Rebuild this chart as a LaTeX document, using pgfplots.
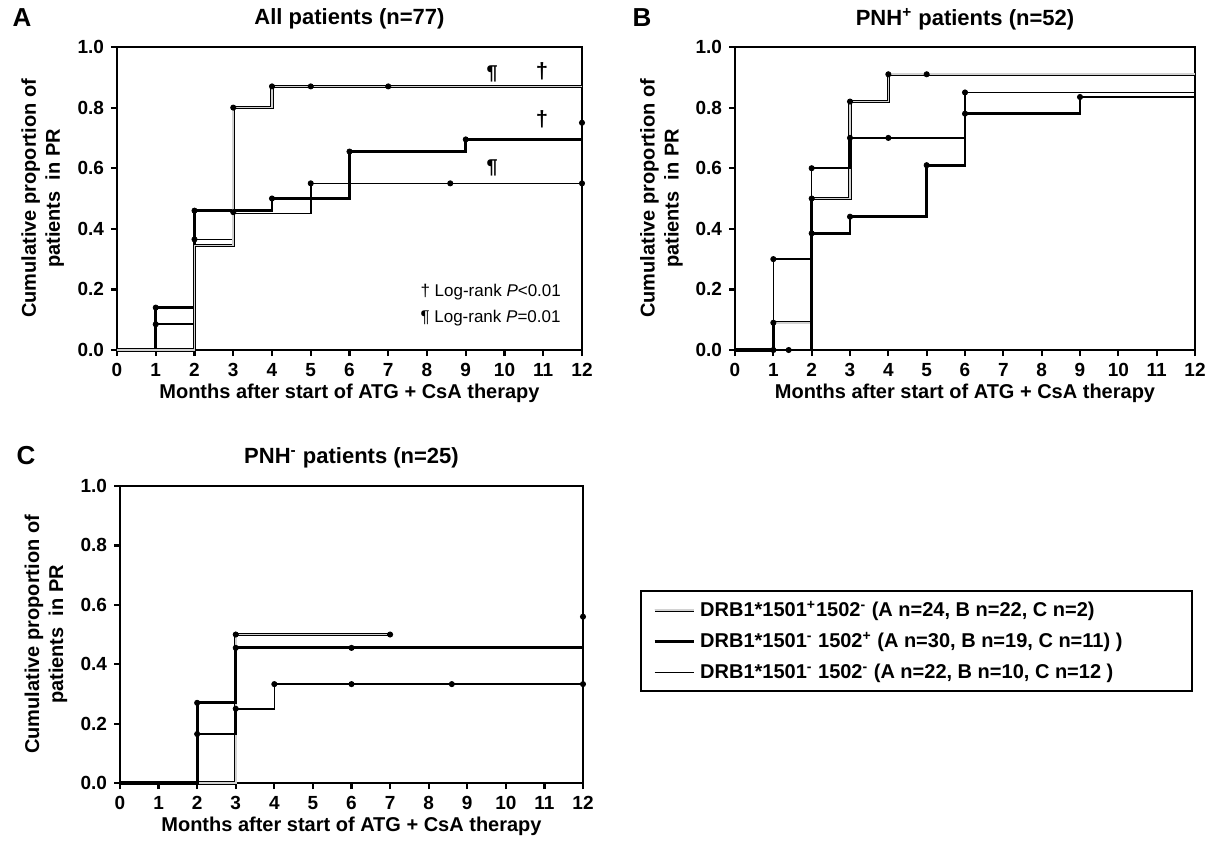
\documentclass[border=0pt]{standalone}
\usepackage{fontspec}
\setmainfont{Liberation Sans}
\usepackage{pgfplots}
\pgfplotsset{compat=1.18}

% 1 px of the reference = 0.5pt
\pgfplotsset{
  kmaxis/.style={
    scale only axis,
    anchor=south west,
    xmin=0, xmax=12, ymin=0, ymax=1,
    xtick={0,1,2,3,4,5,6,7,8,9,10,11,12},
    ytick={0,0.2,0.4,0.6,0.8,1.0},
    tick pos=left,
    tick align=outside,
    major tick length=3pt,
    axis line style={line width=1.2pt},
    tick style={black, line width=1.1pt},
    clip=false,
    /pgf/number format/assume math mode=true,
    yticklabel style={/pgf/number format/fixed, /pgf/number format/fixed zerofill,
      /pgf/number format/precision=1},
    ticklabel style={font=\bfseries\fontsize{9.5}{11}\selectfont},
    xlabel={Months after start of ATG + CsA therapy},
    ylabel={Cumulative proportion of\\patients\ \ in PR},
    label style={font=\bfseries\fontsize{10}{12}\selectfont},
    xlabel style={yshift=3pt},
    ylabel style={align=center, at={(axis description cs:-0.16,0.5)}, anchor=center},
    title style={font=\bfseries\fontsize{11}{13}\selectfont, at={(0.5,1)}, anchor=center, yshift=8pt},
  },
  s1/.style={draw=black, line width=0.45pt, double=gray!35, double distance=0.8pt},
  s2/.style={black, line width=1.4pt},
  s3/.style={black, line width=0.8pt},
  dots/.style={only marks, mark=*, mark size=1.3pt, black, forget plot},
}

\begin{document}
\begin{tikzpicture}
\useasboundingbox (0,0) rectangle (607pt,-426.5pt);

% panel letters
\node[font=\bfseries\fontsize{13}{15}\selectfont] at (11pt,-9pt) {A};
\node[font=\bfseries\fontsize{13}{15}\selectfont] at (321pt,-9pt) {B};
\node[font=\bfseries\fontsize{13}{15}\selectfont] at (13pt,-228pt) {C};

% A: all patients
\begin{axis}[kmaxis, at={(58.5pt,-175pt)}, width=232.5pt, height=151.5pt,
  title={All patients (n=77)}]
\addplot[s2, const plot] coordinates {(0,0)(1,0.14)(2,0.46)(4,0.50)(6,0.655)(9,0.695)(12,0.695)};
\addplot[s3, const plot] coordinates {(0,0)(1,0.085)(2,0.365)(3,0.45)(5,0.55)(12,0.55)};
\addplot[s1, const plot] coordinates {(0,0)(2,0.345)(3,0.80)(4,0.87)(12,0.87)};
\addplot[dots] coordinates {(1,0.14)(1,0.085)(2,0.46)(2,0.365)(3,0.80)(3,0.455)
  (4,0.87)(5,0.87)(7,0.87)(4,0.50)(5,0.55)(6,0.655)(9,0.695)(8.6,0.55)(12,0.55)(12,0.75)};
\node[font=\bfseries\fontsize{10}{12}\selectfont] at (axis cs:9.68,0.91) {¶};
\node[font=\bfseries\fontsize{11}{12}\selectfont] at (axis cs:10.97,0.92) {†};
\node[font=\bfseries\fontsize{11}{12}\selectfont] at (axis cs:10.97,0.76) {†};
\node[font=\bfseries\fontsize{10}{12}\selectfont] at (axis cs:9.68,0.60) {¶};
\node[anchor=west, font=\fontsize{8.5}{10}\selectfont] at (axis cs:7.65,0.19) {† Log-rank \textit{P}<0.01};
\node[anchor=west, font=\fontsize{8.5}{10}\selectfont] at (axis cs:7.65,0.105) {¶ Log-rank \textit{P}=0.01};
\end{axis}

% B: PNH+ patients
\begin{axis}[kmaxis, at={(367.5pt,-175pt)}, width=230pt, height=151.5pt,
  title={PNH\textsuperscript{+} patients (n=52)}]
\addplot[s1, const plot] coordinates {(0,0)(1,0.09)(2,0.50)(3,0.82)(4,0.91)(12,0.91)};
\addplot[s2, const plot] coordinates {(0,0)(2,0.385)(3,0.44)(5,0.61)(6,0.78)(9,0.835)(12,0.835)};
\addplot[s3, const plot] coordinates {(0,0)(1,0.30)(2,0.60)(3,0.70)(6,0.85)(12,0.85)};
\addplot[dots] coordinates {(1,0.30)(1,0.09)(1,0)(1.4,0)(2,0.60)(2,0.50)(2,0.385)
  (3,0.82)(3,0.70)(3,0.44)(4,0.70)(4,0.91)(5,0.91)(5,0.61)(6,0.85)(6,0.78)(9,0.835)};
\end{axis}

% C: PNH- patients, with the legend
\begin{axis}[kmaxis, at={(60pt,-391.5pt)}, width=231.5pt, height=148.5pt,
  title={PNH\textsuperscript{-} patients (n=25)},
  legend style={at={(1.123,0.65)}, anchor=north west, draw=black, line width=1pt,
    font=\bfseries\fontsize{10}{12}\selectfont, row sep=2.5pt, inner xsep=6pt, inner ysep=3pt},
  legend cell align=left,
  legend image code/.code={\draw[#1] (0cm,0cm) -- (0.7cm,0cm);}]
\addplot[s1, const plot] coordinates {(0,0)(3,0.5)(7,0.5)};
\addlegendentry{\makebox[238pt][l]{DRB1*1501\textsuperscript{+}1502\textsuperscript{-} (A n=24, B n=22, C n=2)}}
\addplot[s2, const plot] coordinates {(0,0)(2,0.27)(3,0.455)(12,0.455)};
\addlegendentry{\makebox[238pt][l]{DRB1*1501\textsuperscript{-} 1502\textsuperscript{+} (A n=30, B n=19, C n=11) )}}
\addplot[s3, const plot] coordinates {(0,0)(2,0.165)(3,0.25)(4,0.333)(12,0.333)};
\addlegendentry{\makebox[238pt][l]{DRB1*1501\textsuperscript{-} 1502\textsuperscript{-} (A n=22, B n=10, C n=12 )}}
\addplot[dots] coordinates {(2,0.27)(2,0.165)(3,0.5)(3,0.455)(3,0.25)(4,0.333)(6,0.455)
  (6,0.333)(7,0.5)(8.6,0.333)(12,0.333)(12,0.56)};
\end{axis}
\end{tikzpicture}
\end{document}
